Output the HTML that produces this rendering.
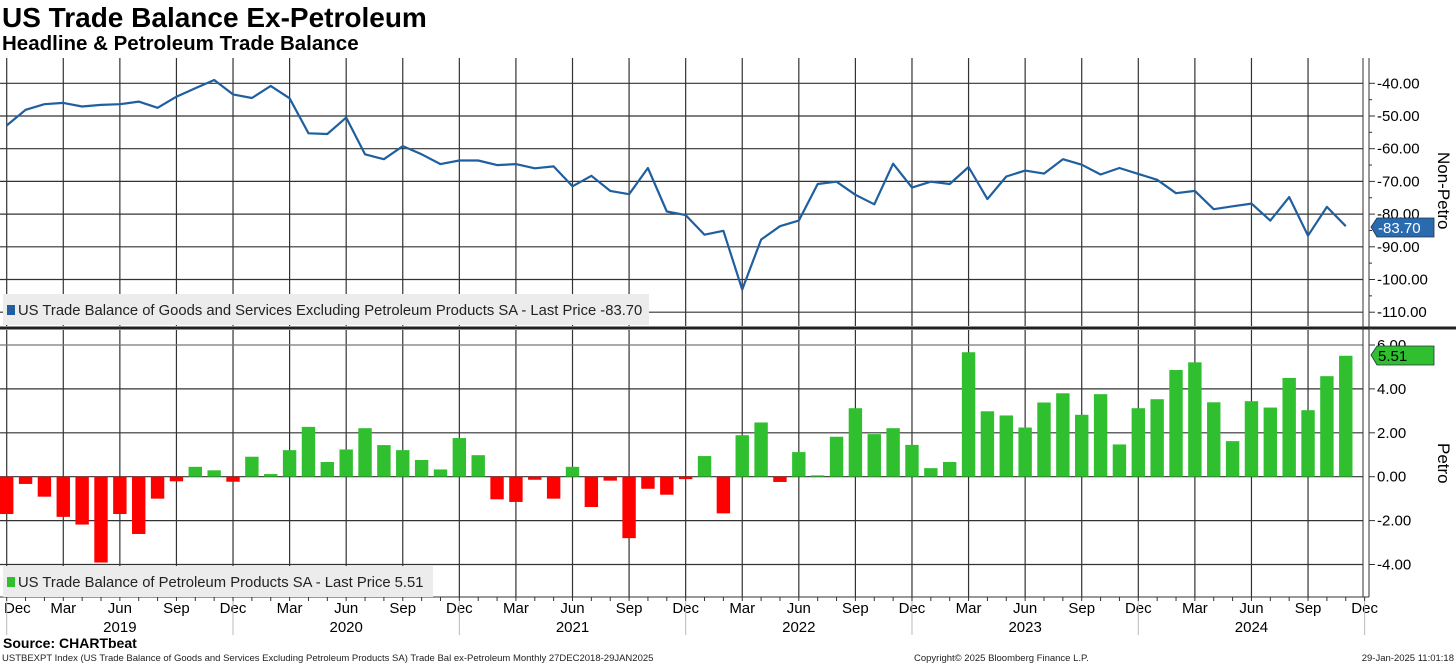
<!DOCTYPE html>
<html><head><meta charset="utf-8"><style>
body{margin:0;background:#fff;width:1456px;height:665px;overflow:hidden;font-family:"Liberation Sans",sans-serif}
svg{position:absolute;left:0;top:0}
</style></head><body>
<svg id="chart" width="1456" height="665" xmlns="http://www.w3.org/2000/svg"></svg>
<script>
const lineValues=[-52.9,-48.1,-46.4,-46.0,-47.1,-46.6,-46.4,-45.6,-47.5,-44.1,-41.5,-39.0,-43.4,-44.5,-40.8,-44.6,-55.3,-55.5,-50.5,-61.7,-63.2,-59.2,-61.7,-64.7,-63.6,-63.6,-65.0,-64.7,-66.0,-65.4,-71.5,-68.3,-72.9,-73.9,-65.9,-79.2,-80.3,-86.3,-85.1,-103.1,-87.8,-83.7,-82.0,-70.8,-70.1,-74.1,-77.0,-64.6,-71.9,-70.1,-70.8,-65.6,-75.4,-68.5,-66.7,-67.6,-63.2,-64.9,-67.9,-65.9,-67.7,-69.5,-73.6,-72.9,-78.5,-77.6,-76.8,-82.0,-74.8,-86.6,-77.8,-83.7];
const barValues=[-1.70,-0.33,-0.91,-1.83,-2.18,-3.91,-1.70,-2.61,-1.0,-0.21,0.45,0.29,-0.23,0.91,0.12,1.21,2.27,0.67,1.24,2.21,1.44,1.21,0.76,0.33,1.76,0.98,-1.03,-1.15,-0.14,-1.0,0.45,-1.38,-0.18,-2.8,-0.55,-0.82,-0.11,0.94,-1.67,1.89,2.47,-0.24,1.12,0.06,1.82,3.12,1.94,2.21,1.45,0.39,0.67,5.67,2.98,2.79,2.24,3.38,3.80,2.82,3.76,1.47,3.12,3.53,4.86,5.21,3.39,1.62,3.44,3.15,4.50,3.03,4.58,5.51];
const topTicks=[-40,-50,-60,-70,-80,-90,-100,-110];
const botTicks=[6,4,2,0,-2,-4];
const monthLabels=["Dec","Mar","Jun","Sep","Dec","Mar","Jun","Sep","Dec","Mar","Jun","Sep","Dec","Mar","Jun","Sep","Dec","Mar","Jun","Sep","Dec","Mar","Jun","Sep","Dec"];
const yearLabels=["2019","2020","2021","2022","2023","2024"];

const svg=document.getElementById('chart');
const NS='http://www.w3.org/2000/svg';
function mk(tag,attrs,parent){const e=document.createElementNS(NS,tag);for(const k in attrs)e.setAttribute(k,attrs[k]);(parent||svg).appendChild(e);return e;}
const X0=6.7,STEP=18.86,PR=1363;
const xs=i=>X0+i*STEP;
const yTop=v=>83.3+(-40-v)*3.27;
const yBot=v=>476.7-v*21.95;

function txt(s,attrs,name){const t=mk('text',attrs);t.textContent=s;return t;}

txt('US Trade Balance Ex-Petroleum',{x:2,y:27,'font-size':28,'font-weight':'bold',fill:'#000'},'chart-title');
txt('Headline & Petroleum Trade Balance',{x:2,y:50,'font-size':20.5,'font-weight':'bold',fill:'#000'},'chart-subtitle');

const grid=mk('g',{stroke:'#333','stroke-width':1.2});

for(let i=0;i<72;i+=3){const x=xs(i);mk('line',{x1:x,x2:x,y1:58,y2:326},grid);mk('line',{x1:x,x2:x,y1:330,y2:597},grid);}
topTicks.forEach(v=>mk('line',{x1:0,x2:PR,y1:yTop(v),y2:yTop(v)},grid));
botTicks.forEach(v=>mk('line',{x1:0,x2:PR,y1:yBot(v),y2:yBot(v),stroke:v===6?'#777':'#333'},grid));

mk('line',{x1:0,x2:1456,y1:328,y2:328,stroke:'#222','stroke-width':3});
const ax=mk('g',{stroke:'#333','stroke-width':1});

mk('line',{x1:PR,x2:PR,y1:58,y2:597},ax);
mk('line',{x1:1369,x2:1369,y1:58,y2:597},ax);
mk('line',{x1:0,x2:1369,y1:597,y2:597},ax);
for(let i=0;i<=72;i++){const x=xs(i);mk('line',{x1:x,x2:x,y1:597,y2:601},ax);}

topTicks.forEach(v=>{mk('line',{x1:1369,x2:1375,y1:yTop(v),y2:yTop(v),stroke:'#333'});
 txt(v.toFixed(2),{x:1377,y:yTop(v)+5,'font-size':15,fill:'#000'},'y-tick-label-top');});
for(let v=-45;v>=-115;v-=5){if(v%10)mk('line',{x1:1369,x2:1372,y1:yTop(v),y2:yTop(v),stroke:'#333'});}
botTicks.forEach(v=>{mk('line',{x1:1369,x2:1375,y1:yBot(v),y2:yBot(v),stroke:'#333'});
 txt(v.toFixed(2),{x:1377,y:yBot(v)+5,'font-size':15,fill:'#000'},'y-tick-label-bottom');});
txt('Non-Petro',{x:0,y:0,'font-size':17,fill:'#000',transform:'translate(1438,152) rotate(90)'},'y-axis-title-top');
txt('Petro',{x:0,y:0,'font-size':17,fill:'#000',transform:'translate(1438,443) rotate(90)'},'y-axis-title-bottom');

const bars=mk('g',{});
barValues.forEach((v,i)=>{const y0=yBot(0),y1=yBot(v);
 const r=mk('rect',{x:xs(i)-6.7,y:Math.min(y0,y1),width:13.4,height:Math.abs(y1-y0),fill:v>=0?'#2fbf2f':'#ff0000'},bars);
 });

const pts=lineValues.map((v,i)=>xs(i).toFixed(1)+','+yTop(v).toFixed(1)).join(' ');
const pl=mk('polyline',{points:pts,fill:'none',stroke:'#1f5fa0','stroke-width':2.2,'stroke-linejoin':'round'});


function legend(x,y,w,color,label,name){const g=mk('g',{});
 mk('rect',{x:x,y:y,width:w,height:31,fill:'#ececec'},g);mk('rect',{x:x+4,y:y+11,width:8,height:10,fill:color},g);
 const t=mk('text',{x:x+15,y:y+21,'font-size':14.8,fill:'#222'},g);t.textContent=label;}
legend(3,294,646,'#1f5fa0','US Trade Balance of Goods and Services Excluding Petroleum Products SA - Last Price -83.70','legend-non-petro');
legend(3,566,430,'#2fbf2f','US Trade Balance of Petroleum Products SA - Last Price 5.51','legend-petro');

function tag(y,color,label,tc,name){const g=mk('g',{});
 mk('polygon',{points:`1371,${y+9} 1377,${y} 1434,${y} 1434,${y+19} 1377,${y+19}`,fill:color,stroke:'#234','stroke-width':0.8},g);
 const t=mk('text',{x:1378,y:y+15,'font-size':15,fill:tc},g);t.textContent=label;}
tag(218,'#2a6bb0','-83.70','#fff','last-price-tag-non-petro');
tag(346,'#2fbf2f','5.51','#000','last-price-tag-petro');

monthLabels.forEach((m,k)=>{txt(m,{x:k===0?4:xs(k*3),y:613,'font-size':15,fill:'#000','text-anchor':k===0?'start':'middle'},'x-month-label');});
yearLabels.forEach((y,k)=>{txt(y,{x:xs(6+k*12),y:632,'font-size':15,fill:'#000','text-anchor':'middle'},'x-year-label');
 mk('line',{x1:xs(12+k*12),x2:xs(12+k*12),y1:601,y2:635,stroke:'#bbb'});});
mk('line',{x1:xs(0),x2:xs(0),y1:601,y2:635,stroke:'#bbb'});

txt('Source: CHARTbeat',{x:3,y:648,'font-size':14,'font-weight':'bold',fill:'#000'},'source-note');
txt('USTBEXPT Index (US Trade Balance of Goods and Services Excluding Petroleum Products SA) Trade Bal ex-Petroleum  Monthly 27DEC2018-29JAN2025',{x:2,y:661,'font-size':9.5,fill:'#222'},'footer-description');
txt('Copyright© 2025 Bloomberg Finance L.P.',{x:914,y:661,'font-size':9.5,fill:'#222'},'footer-copyright');
txt('29-Jan-2025 11:01:18',{x:1454,y:661,'font-size':9.5,fill:'#222','text-anchor':'end'},'footer-timestamp');
</script>
</body></html>
